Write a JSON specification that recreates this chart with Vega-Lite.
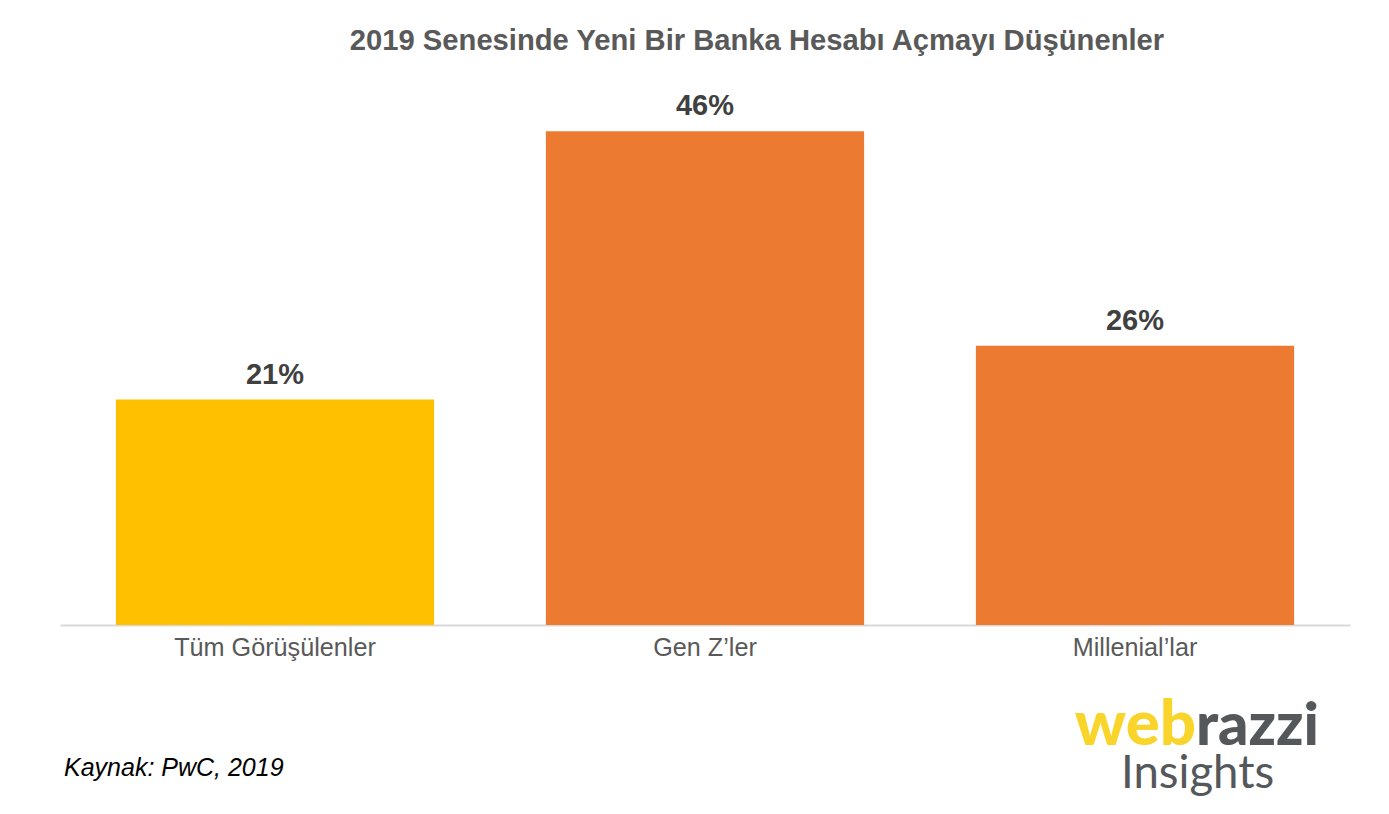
{
  "$schema": "https://vega.github.io/schema/vega-lite/v6.json",
  "width": 1290,
  "height": 540,
  "padding": {"left": 60, "top": 85, "right": 39, "bottom": 189},
  "autosize": "none",
  "background": "white",
  "view": {"stroke": null},
  "title": {
    "text": "2019 Senesinde Yeni Bir Banka Hesabı Açmayı Düşünenler",
    "font": "Liberation Sans",
    "fontSize": 29.2,
    "fontWeight": "bold",
    "color": "#595959",
    "anchor": "middle",
    "frame": "group",
    "offset": 6,
    "dx": 52,
    "baseline": "alphabetic"
  },
  "datasets": {
    "barlar": [
      {"grup": "Tüm Görüşülenler", "oran": 21, "etiket": "21%", "renk": "a"},
      {"grup": "Gen Z’ler", "oran": 46, "etiket": "46%", "renk": "b"},
      {"grup": "Millenial’lar", "oran": 26, "etiket": "26%", "renk": "b"}
    ],
    "kaynak": [{"grup": "Tüm Görüşülenler", "oran": -14.1, "yazi": "Kaynak: PwC, 2019"}],
    "logo1": [{"grup": "Millenial’lar", "oran": -11.2, "yazi": "web"}],
    "logo2": [{"grup": "Millenial’lar", "oran": -11.2, "yazi": "razzi"}],
    "logo3": [{"grup": "Millenial’lar", "oran": -15.2, "yazi": "Insights"}]
  },
  "data": {"name": "barlar"},
  "encoding": {
    "x": {
      "field": "grup",
      "type": "nominal",
      "sort": ["Tüm Görüşülenler", "Gen Z’ler", "Millenial’lar"],
      "title": null,
      "scale": {"paddingInner": 0.26, "paddingOuter": 0.13},
      "axis": {
        "labelAngle": 0,
        "labelFont": "Liberation Sans",
        "labelFontSize": 25.2,
        "labelColor": "#595959",
        "labelPadding": 10,
        "labelLimit": 400,
        "ticks": false,
        "domainColor": "#d9d9d9",
        "domainWidth": 2
      }
    },
    "y": {
      "field": "oran",
      "type": "quantitative",
      "scale": {"domain": [0, 50.3], "nice": false},
      "axis": null
    }
  },
  "layer": [
    {
      "mark": {"type": "bar"},
      "encoding": {
        "color": {
          "field": "renk",
          "type": "nominal",
          "scale": {"domain": ["a", "b"], "range": ["#ffc000", "#ec7b31"]},
          "legend": null
        }
      }
    },
    {
      "mark": {
        "type": "text",
        "baseline": "alphabetic",
        "dy": -16,
        "font": "Liberation Sans",
        "fontSize": 29,
        "fontWeight": "bold",
        "color": "#404040"
      },
      "encoding": {"text": {"field": "etiket"}}
    },
    {
      "data": {"name": "kaynak"},
      "mark": {
        "type": "text",
        "align": "left",
        "baseline": "alphabetic",
        "dx": -211,
        "font": "Liberation Sans",
        "fontSize": 25,
        "fontStyle": "italic",
        "color": "#000000"
      },
      "encoding": {"text": {"field": "yazi"}}
    },
    {
      "data": {"name": "logo1"},
      "mark": {
        "type": "text",
        "align": "right",
        "baseline": "alphabetic",
        "dx": 61,
        "font": "Lato",
        "fontSize": 63.5,
        "fontWeight": 900,
        "color": "#f9d52c"
      },
      "encoding": {"text": {"field": "yazi"}}
    },
    {
      "data": {"name": "logo2"},
      "mark": {
        "type": "text",
        "align": "left",
        "baseline": "alphabetic",
        "dx": 61,
        "font": "Lato",
        "fontSize": 59.5,
        "fontWeight": 900,
        "color": "#54585a"
      },
      "encoding": {"text": {"field": "yazi"}}
    },
    {
      "data": {"name": "logo3"},
      "mark": {
        "type": "text",
        "align": "left",
        "baseline": "alphabetic",
        "dx": -14,
        "font": "Lato",
        "fontSize": 45.5,
        "color": "#54585a"
      },
      "encoding": {"text": {"field": "yazi"}}
    }
  ]
}
